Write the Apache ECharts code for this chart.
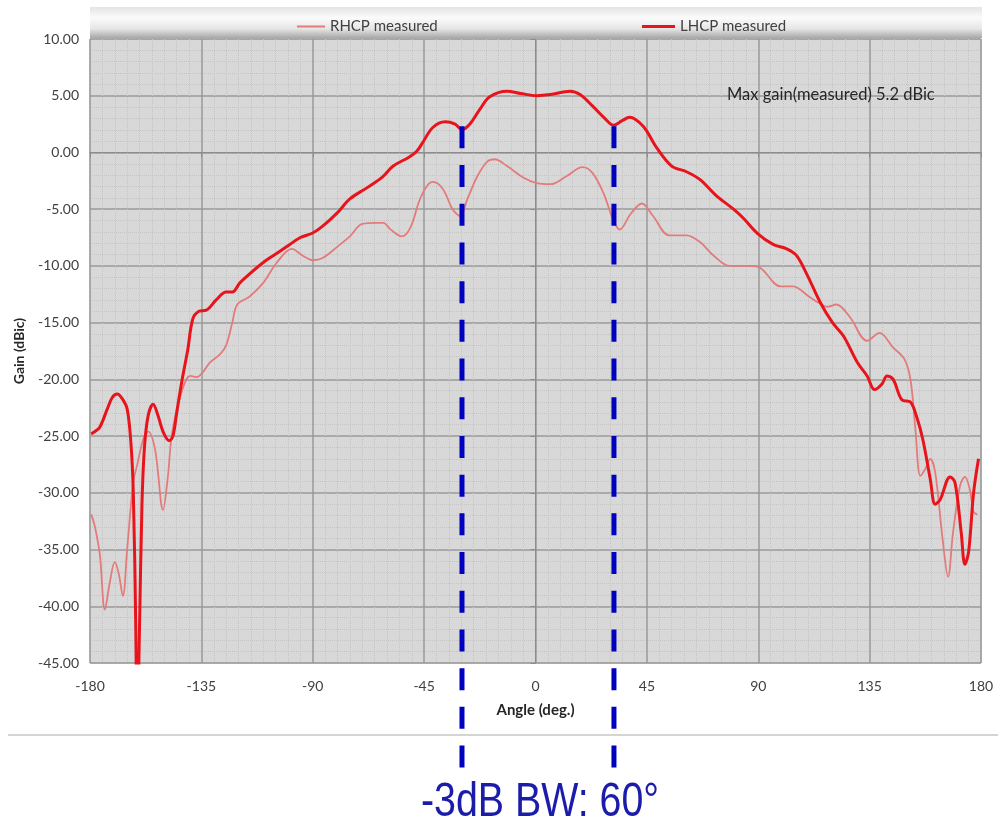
<!DOCTYPE html>
<html>
<head>
<meta charset="utf-8">
<script src="https://cdn.jsdelivr.net/npm/echarts@6/dist/echarts.min.js"></script>
<style>
html,body{margin:0;padding:0;background:#fff;}
#c{width:998px;height:823px;}
</style>
</head>
<body>
<div id="c"></div>
<script>
// ---- Data ----
const xTicks = [-180, -135, -90, -45, 0, 45, 90, 135, 180];
const yTicks = [-45, -40, -35, -30, -25, -20, -15, -10, -5, 0, 5, 10];

const rhcpAngle = [-179.5,-178,-176,-174,-172,-170,-168.5,-166.7,-165,-162.5,-161,-158.5,-156.5,-153.7,-150.5,-148.5,-147,-143.5,-139.5,-137,-134.5,-131.5,-127.5,-125,-122.5,-120.5,-115.5,-110,-104.5,-98.5,-94,-90,-86,-80,-75,-70,-64,-61.5,-58.5,-54,-50.5,-47,-44,-41.5,-37.5,-33.5,-30.5,-27.5,-23.5,-19.5,-16.5,-11.5,-5,0.5,6,12.5,19,23,27.5,31.3,34,38.5,43,47.5,54,61,66.5,72,78.5,86.5,91,99,104,110.5,114,118,121.5,127,134,139,144.5,149,151.5,153.5,155.5,157.5,159.5,161.5,164.5,166.7,168.7,171.5,173.5,175.5,177,178.5];
const rhcpGain  = [-31.9,-33.0,-35.5,-40.3,-37.9,-36.1,-37.0,-39.1,-35.0,-29.0,-27.6,-25.3,-24.6,-26.2,-31.5,-28.5,-25.0,-21.5,-19.7,-19.8,-19.4,-18.5,-17.8,-17.0,-15.0,-13.4,-12.7,-11.5,-9.7,-8.5,-9.1,-9.5,-9.3,-8.3,-7.4,-6.3,-6.2,-6.2,-6.8,-7.4,-6.6,-4.3,-3.0,-2.6,-3.2,-5.0,-5.6,-4.1,-2.1,-0.8,-0.6,-1.2,-2.2,-2.7,-2.8,-2.1,-1.3,-1.8,-3.6,-5.9,-6.8,-5.4,-4.5,-5.6,-7.3,-7.3,-7.9,-9.1,-10.0,-10.0,-10.2,-11.8,-11.8,-12.7,-13.2,-13.6,-13.4,-14.5,-16.6,-15.9,-17.2,-18.2,-20.0,-24.4,-28.5,-27.9,-27.0,-28.2,-34.1,-37.4,-33.5,-29.4,-28.6,-29.7,-31.7,-31.9];

const lhcpAngle = [-179.5,-178,-176,-173,-171,-169,-167,-165,-163.5,-162.5,-161.5,-161,-160,-159,-158,-156.5,-154.5,-152.5,-150.5,-148,-146.5,-145,-143,-140.5,-138.5,-136,-133,-129,-125,-122.5,-119.5,-115.5,-110,-106,-100.5,-95,-90,-86,-80,-75,-68,-62,-57.5,-51,-48,-45.5,-41.5,-36.5,-32.5,-29.7,-26.5,-22.5,-18.5,-11.5,-6,0.5,6,14,18,23,28,31.5,35,38,43.5,49,55,61,66.5,73,80,84,89.5,96,101.5,105.5,110,115,120,124.5,130,134,137,140,142,144.5,148,151.5,154,156.5,159.5,161.5,163.5,167.5,169.5,172,173.5,175,177,179];
const lhcpGain  = [-24.8,-24.6,-24.2,-22.6,-21.6,-21.3,-21.7,-22.6,-25.5,-30.0,-42.0,-52.0,-42.0,-31.0,-26.0,-23.2,-22.2,-23.2,-24.6,-25.4,-25.0,-23.0,-20.3,-17.4,-14.7,-14.0,-13.9,-13.0,-12.3,-12.3,-11.5,-10.7,-9.7,-9.1,-8.3,-7.5,-7.1,-6.5,-5.3,-4.1,-3.1,-2.2,-1.2,-0.4,0.1,0.9,2.2,2.7,2.5,2.0,2.5,3.8,4.9,5.4,5.2,5.0,5.1,5.4,5.1,4.1,3.0,2.4,2.8,3.1,2.3,0.4,-1.2,-1.7,-2.4,-3.8,-5.0,-5.8,-7.1,-8.1,-8.5,-9.1,-10.9,-13.2,-15.0,-16.2,-18.5,-19.7,-20.9,-20.4,-19.7,-20.0,-21.8,-22.0,-23.3,-25.3,-28.8,-31.0,-30.6,-28.6,-29.1,-33.5,-36.3,-35.2,-30.0,-27.0];

// -3 dB beamwidth markers (angle) and their vertical extent (gain units)
const bwAngles = [-29.7, 31.7];
const bwTop = 2.3;
const bwBottom = -54.2;

const seriesNames = ['RHCP measured', 'LHCP measured'];
const annotation = 'Max gain(measured) 5.2 dBic';
const bwLabel = '-3dB BW: 60°';
const xName = 'Angle (deg.)';
const yName = 'Gain (dBic)';

// ---- Chart ----
const zip = (a, b) => a.map((v, i) => [v, b[i]]);
const chart = echarts.init(document.getElementById('c'), null, {renderer: 'canvas'});
const FONT = 'Lato, "Open Sans", sans-serif';

const bwSeries = bwAngles.map((a, i) => ({
  name: 'bw' + i,
  type: 'line',
  data: [[a, bwTop], [a, bwBottom]],
  clip: false,
  symbol: 'none',
  silent: true,
  z: 5,
  lineStyle: {color: '#0000bf', width: 5, type: [22, 16.7]}
}));

chart.setOption({
  animation: false,
  backgroundColor: '#ffffff',
  grid: {left: 90, right: 17, top: 39, bottom: 160, show: true,
         backgroundColor: '#d8d8d8', borderColor: '#b5b5b5', borderWidth: 1},
  legend: [
    {data: [seriesNames[0]], left: 292, top: 14, icon: 'rect', itemWidth: 28, itemHeight: 2,
     textStyle: {fontFamily: FONT, fontSize: 15, color: '#404040'}, selectedMode: false},
    {data: [seriesNames[1]], left: 637, top: 14, icon: 'rect', itemWidth: 33, itemHeight: 3,
     textStyle: {fontFamily: FONT, fontSize: 15, color: '#404040'}, selectedMode: false}
  ],
  xAxis: {
    type: 'value', min: xTicks[0], max: xTicks[xTicks.length - 1], interval: 45,
    name: xName, nameLocation: 'middle', nameGap: 40,
    nameTextStyle: {fontFamily: FONT, fontSize: 15, fontWeight: 'bold', color: '#262626'},
    axisLine: {show: true, lineStyle: {color: '#8c8c8c', width: 1}},
    axisTick: {show: true, length: 5, lineStyle: {color: '#8c8c8c'}},
    axisLabel: {fontFamily: FONT, fontSize: 14, color: '#404040', margin: 16},
    splitLine: {show: true, lineStyle: {color: '#9a9a9a', width: 1.5}},
    minorTick: {show: false, splitNumber: 9},
    minorSplitLine: {show: true, lineStyle: {color: '#c4c4c4', type: 'dotted', width: 1}}
  },
  yAxis: {
    type: 'value', min: yTicks[0], max: yTicks[yTicks.length - 1], interval: 5,
    name: yName, nameLocation: 'middle', nameGap: 64, nameRotate: 90,
    nameTextStyle: {fontFamily: FONT, fontSize: 14, fontWeight: 'bold', color: '#262626'},
    axisLine: {show: true, lineStyle: {color: '#8c8c8c', width: 1}},
    axisTick: {show: true, length: 5, lineStyle: {color: '#8c8c8c'}},
    axisLabel: {fontFamily: FONT, fontSize: 14, color: '#404040', margin: 11,
                formatter: v => v.toFixed(2)},
    splitLine: {show: true, lineStyle: {color: '#9a9a9a', width: 1.5}},
    minorTick: {show: false, splitNumber: 5},
    minorSplitLine: {show: true, lineStyle: {color: '#c4c4c4', type: 'dotted', width: 1}}
  },
  series: [
    {name: seriesNames[0], type: 'line', data: zip(rhcpAngle, rhcpGain), smooth: 0.35,
     symbol: 'none', z: 3, lineStyle: {color: '#e47b7b', width: 1.8}, itemStyle: {color: '#e47b7b'}},
    {name: seriesNames[1], type: 'line', data: zip(lhcpAngle, lhcpGain), smooth: 0.35,
     symbol: 'none', z: 4, lineStyle: {color: '#e8141c', width: 3}, itemStyle: {color: '#e8141c'}}
  ].concat(bwSeries),
  graphic: [
    {type: 'rect', z: -1, shape: {x: 90, y: 7, width: 892, height: 31},
     style: {fill: new echarts.graphic.LinearGradient(0, 0, 0, 1, [
       {offset: 0, color: '#e4e4e4'}, {offset: 0.35, color: '#fbfbfb'},
       {offset: 0.7, color: '#e6e6e6'}, {offset: 1, color: '#a8a8a8'}])}},
    {type: 'line', z: -1, shape: {x1: 8, y1: 735, x2: 998, y2: 735},
     style: {stroke: '#d4d4d4', lineWidth: 2}},
    {type: 'text', left: 727, top: 86, z: 10,
     style: {text: annotation, fontFamily: FONT, fontSize: 16.5, fill: '#262626'}},
    {type: 'text', x: 540, y: 779, scaleX: 0.82, z: 10,
     style: {text: bwLabel, x: 0, y: 0, textAlign: 'center', textVerticalAlign: 'top',
             fontFamily: '"Liberation Sans", Arial, sans-serif', fontSize: 48, fill: '#1c1caa'}}
  ]
});
</script>
</body>
</html>
